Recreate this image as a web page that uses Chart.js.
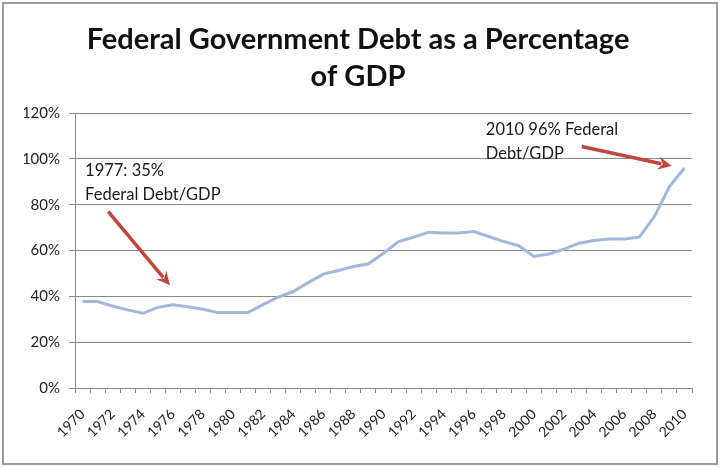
<!DOCTYPE html>
<html>
<head>
<meta charset="utf-8">
<script src="https://cdn.jsdelivr.net/npm/chart.js@4.4.1/dist/chart.umd.min.js"></script>
<style>
  html, body { margin: 0; padding: 0; background: #fff; }
  #wrap { width: 720px; height: 467px; }
</style>
</head>
<body>
<div id="wrap"><canvas id="debtChart"></canvas></div>
<script>
const years = [
  "1970", "1971", "1972", "1973", "1974", "1975", "1976", "1977", "1978", "1979",
  "1980", "1981", "1982", "1983", "1984", "1985", "1986", "1987", "1988", "1989",
  "1990", "1991", "1992", "1993", "1994", "1995", "1996", "1997", "1998", "1999",
  "2000", "2001", "2002", "2003", "2004", "2005", "2006", "2007", "2008", "2009",
  "2010",
];

// federal debt, % of GDP
const debtPct = [
  37.7, 37.7, 35.8, 34.1, 32.6, 35.2, 36.3, 35.5, 34.4, 32.9,
  32.9, 32.9, 36.4, 39.6, 42.1, 46.0, 49.7, 51.3, 53.0, 54.2,
  58.8, 63.9, 65.8, 68.0, 67.6, 67.6, 68.3, 66.1, 63.9, 62.0,
  57.4, 58.5, 60.6, 63.2, 64.4, 65.0, 65.0, 65.8, 74.8, 87.9,
  96.0,
];

const yTickValues = [0, 20, 40, 60, 80, 100, 120];

const titleLines = ["Federal Government Debt as a Percentage", "of GDP"];

// callouts, anchored in data space: [category index, percent]
const notes = [
  { lines: ["1977: 35%", "Federal Debt/GDP"], at: [0.17, 92.6] },
  { lines: ["2010 96% Federal", "Debt/GDP"], at: [26.8, 110.5] },
];
const arrows = [
  { from: [1.71, 77.0], to: [5.81, 44.8] },
  { from: [33.17, 105.4], to: [39.15, 96.9] },
];

const FONT = "Lato, 'Open Sans', sans-serif";
const GRID = "#8a8a8a";

const framePlugin = {
  id: "frame",
  beforeDraw(chart) {
    const c = chart.ctx;
    c.save();
    c.fillStyle = "#fff";
    c.fillRect(0, 0, chart.width, chart.height);
    c.strokeStyle = "#9a9a9a";
    c.lineWidth = 2;
    c.strokeRect(3, 3, chart.width - 6, chart.height - 6);
    c.restore();
  },
};

const calloutPlugin = {
  id: "callouts",
  afterDatasetsDraw(chart) {
    const c = chart.ctx;
    const sx = chart.scales.x, sy = chart.scales.y;
    const px = (p) => [sx.getPixelForValue(p[0]), sy.getPixelForValue(p[1])];
    c.save();
    c.fillStyle = "#1a1a1a";
    c.font = "16.5px " + FONT;
    c.textBaseline = "alphabetic";
    c.textAlign = "left";
    notes.forEach((n) => {
      const [x, y] = px(n.at);
      n.lines.forEach((t, i) => c.fillText(t, x, y + i * 24));
    });
    arrows.forEach((a) => {
      const [x1, y1] = px(a.from);
      const [x2, y2] = px(a.to);
      const ang = Math.atan2(y2 - y1, x2 - x1);
      const head = 15;
      c.strokeStyle = "#c0443f";
      c.fillStyle = "#c0443f";
      c.lineWidth = 3.5;
      c.beginPath();
      c.moveTo(x1, y1);
      c.lineTo(x2 - Math.cos(ang) * head * 0.7, y2 - Math.sin(ang) * head * 0.7);
      c.stroke();
      c.beginPath();
      c.moveTo(x2, y2);
      c.lineTo(x2 - head * Math.cos(ang - 0.45), y2 - head * Math.sin(ang - 0.45));
      c.lineTo(x2 - head * 0.6 * Math.cos(ang), y2 - head * 0.6 * Math.sin(ang));
      c.lineTo(x2 - head * Math.cos(ang + 0.45), y2 - head * Math.sin(ang + 0.45));
      c.closePath();
      c.fill();
    });
    c.restore();
  },
};

new Chart(document.getElementById("debtChart"), {
  type: "line",
  data: {
    labels: years,
    datasets: [
      {
        label: "Federal Debt/GDP",
        data: debtPct,
        borderColor: "#a4b7da",
        borderWidth: 3,
        pointRadius: 0,
        tension: 0,
        fill: false,
      },
    ],
  },
  options: {
    responsive: true,
    maintainAspectRatio: false,
    animation: false,
    // left padding keeps the title centred like the original
    layout: { padding: { left: 24, right: 28, top: 0, bottom: 0 } },
    plugins: {
      legend: { display: false },
      tooltip: { enabled: false },
      title: {
        display: true,
        text: titleLines,
        color: "#111",
        font: { family: FONT, size: 29, weight: "bold", lineHeight: 37 / 29 },
        padding: { top: 21, bottom: 18 },
      },
    },
    scales: {
      x: {
        offset: true,
        afterFit(scale) { scale.height = 79; },
        grid: {
          display: true,
          offset: true,
          drawOnChartArea: false,
          drawTicks: true,
          tickLength: 5,
          color: GRID,
        },
        border: { color: GRID, width: 1 },
        ticks: {
          autoSkip: false,
          maxRotation: 45,
          minRotation: 45,
          padding: 13,
          color: "#222",
          font: { family: FONT, size: 14 },
          callback: (v, i) => (i % 2 === 0 ? years[i] : ""),
        },
      },
      y: {
        min: 0,
        max: 120,
        afterFit(scale) { scale.width = 51; },
        afterBuildTicks(scale) {
          scale.ticks = yTickValues.map((v) => ({ value: v }));
        },
        grid: { color: GRID, tickLength: 6, drawTicks: true },
        border: { color: GRID, width: 1 },
        ticks: {
          padding: 9,
          color: "#222",
          font: { family: FONT, size: 15 },
          callback: (v) => v + "%",
        },
      },
    },
  },
  plugins: [framePlugin, calloutPlugin],
});
</script>
</body>
</html>
